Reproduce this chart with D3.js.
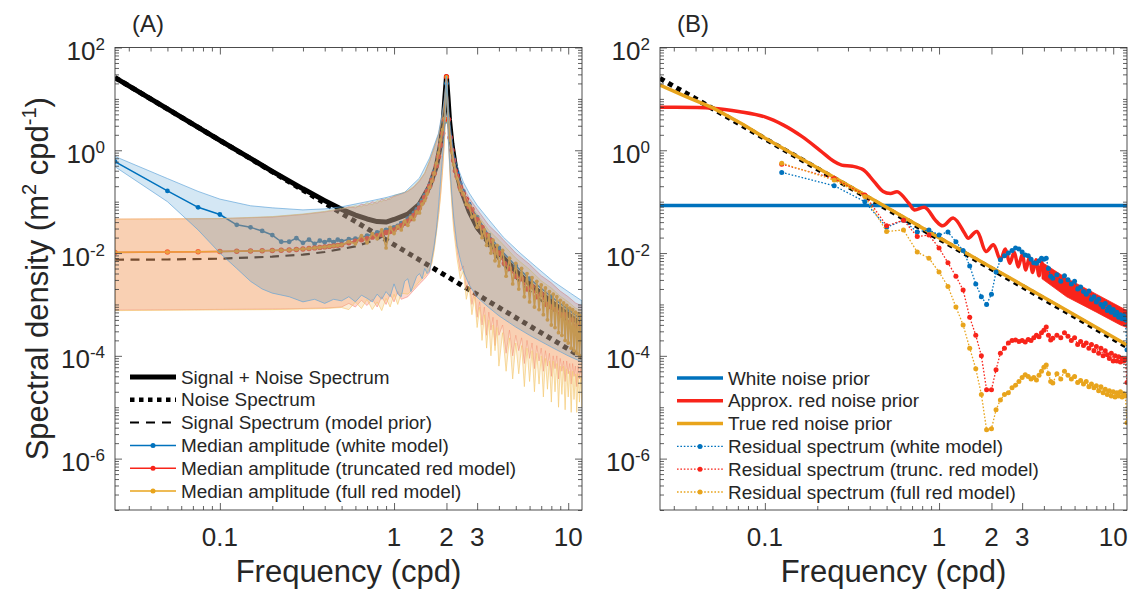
<!DOCTYPE html>
<html>
<head>
<meta charset="utf-8">
<script src="https://cdnjs.cloudflare.com/ajax/libs/d3/7.8.5/d3.min.js"></script>
<style>
  body { margin: 0; background: #fff; }
  svg text { font-family: "Liberation Sans", Arial, Helvetica, sans-serif; fill: #262626; }
</style>
</head>
<body>
<script>
/* ---------- data (values are log10 of spectral density, m^2 cpd^-1) ---------- */

var xTickVals = [0.1, 1, 2, 3, 10];
var xTickLabels = ['0.1', '1', '2', '3', '10'];
var yTickExp = [2, 0, -2, -4, -6];

// panel A : model spectra
var freqCurveA = [0.025, 0.05, 0.1, 0.2, 0.3, 0.4, 0.5, 0.6, 0.7, 0.8, 0.9, 1.0, 1.2, 1.4, 1.6, 1.75, 1.85, 1.92, 1.96, 2.0,
  2.04, 2.08, 2.15, 2.25, 2.4, 2.7, 3, 4, 5, 6, 8, 10, 12];
var sigNoiseLogA = [1.415, 0.806, 0.193, -0.409, -0.75, -0.979, -1.149, -1.26, -1.337, -1.387, -1.398, -1.347, -1.244, -1.046,
  -0.7, -0.31, 0.124, 0.6, 1.04, 1.43, 1.04, 0.6, 0.124, -0.32, -0.72, -1.19, -1.5, -2.0, -2.35, -2.6, -2.95, -3.2, -3.4];
var signalLogA = [-2.13, -2.125, -2.11, -2.07, -2.03, -1.98, -1.92, -1.87, -1.80, -1.73, -1.64, -1.54, -1.35, -1.08, -0.74,
  -0.35, 0.1, 0.59, 1.02, 1.415, 1.02, 0.59, 0.1, -0.35, -0.74, -1.22, -1.54, -2.13, -2.48, -2.74, -3.08, -3.33, -3.52];
var freqNoiseA = [0.025, 0.1, 1, 10, 12];
var noiseLogA = [1.415, 0.193, -1.837, -3.867, -4.03];

// panel A : confidence bands
var blueHiFreqA = [0.025, 0.05, 0.075, 0.1, 0.15, 0.2, 0.3, 0.4, 0.5, 0.7, 0.9, 1.15, 1.4, 1.6, 1.8, 1.9, 1.95, 2.0, 2.05, 2.1,
  2.2, 2.3, 2.5, 2.7, 3.0, 3.5, 4.24, 5.3, 6.6, 8.2, 10.3, 12];
var blueHiLogA = [-0.12, -0.55, -0.8, -0.95, -1.08, -1.12, -1.16, -1.14, -1.1, -1.0, -0.92, -0.82, -0.54, -0.15, 0.33, 0.78,
  1.05, 1.44, 0.9, 0.5, -0.05, -0.3, -0.62, -0.83, -1.07, -1.35, -1.69, -2.0, -2.28, -2.55, -2.78, -2.93];
var blueLoFreqA = [0.025, 0.05, 0.075, 0.1, 0.125, 0.15, 0.175, 0.2, 0.25, 0.3, 0.35, 0.4, 0.45, 0.5, 0.55, 0.6, 0.65, 0.7,
  0.75, 0.8, 0.85, 0.9, 0.95, 1.0, 1.05, 1.1, 1.15, 1.2, 1.25, 1.3, 1.35, 1.4, 1.45, 1.5, 1.55, 1.6, 1.65, 1.7, 1.75, 1.8,
  1.85, 1.9, 1.95, 2.0, 2.05, 2.1, 2.15, 2.2, 2.3, 2.4, 2.5, 2.7, 3.0, 3.5, 4.0, 5.0, 6.0, 8.0, 10.0, 12.0];
var blueLoLogA = [-0.32, -1.0, -1.55, -2.0, -2.3, -2.55, -2.7, -2.78, -2.85, -2.95, -2.9, -2.98, -2.9, -2.93, -2.85, -2.95,
  -2.82, -2.88, -2.95, -2.8, -2.9, -2.75, -2.85, -2.6, -2.8, -2.85, -2.55, -2.5, -2.75, -2.6, -2.45, -2.4, -2.5, -2.3, -2.4,
  -2.35, -2.1, -1.85, -1.55, -1.1, -0.6, -0.1, 0.4, 1.3, 0.2, -0.4, -0.9, -1.3, -1.85, -2.13, -2.35, -2.62, -2.86, -3.06,
  -3.22, -3.44, -3.6, -3.83, -4.0, -4.12];

var hiFreqA = [0.025, 0.1, 0.2, 0.3, 0.4, 0.5, 0.55, 0.6, 0.65, 0.7, 0.75, 0.8, 0.85, 0.9, 0.95, 1.0, 1.1, 1.2, 1.3, 1.4, 1.5,
  1.6, 1.7, 1.8, 1.9, 1.95, 2.0, 2.05, 2.1, 2.2, 2.3, 2.5, 2.7, 3.0, 3.5, 4.0, 5.0, 6.0, 7.0, 8.0, 9.0, 10.0, 11.0, 12.0];
var redHiLogA = [-1.34, -1.33, -1.3, -1.25, -1.2, -1.15, -1.1, -1.12, -1.05, -1.07, -1.0, -1.03, -0.95, -0.98, -0.92, -0.9,
  -0.85, -0.8, -0.72, -0.6, -0.45, -0.22, 0.05, 0.3, 0.72, 1.0, 1.45, 0.8, 0.4, -0.15, -0.42, -0.72, -0.93, -1.15, -1.46,
  -1.65, -2.0, -2.22, -2.44, -2.58, -2.74, -2.85, -2.97, -3.03];
var orangeHiLogA = [-1.34, -1.33, -1.29, -1.24, -1.19, -1.13, -1.12, -1.08, -1.1, -1.02, -1.06, -0.98, -1.0, -0.93, -0.96,
  -0.88, -0.84, -0.79, -0.7, -0.58, -0.44, -0.2, 0.05, 0.3, 0.7, 0.98, 1.44, 0.75, 0.35, -0.2, -0.5, -0.8, -1.02, -1.24,
  -1.56, -1.75, -2.1, -2.32, -2.54, -2.68, -2.84, -2.95, -3.07, -3.13];

var loFreqLeftA = [0.025, 0.2, 0.4, 0.5, 0.55, 0.6, 0.65, 0.7, 0.75, 0.8, 0.85, 0.9, 0.95, 1.0, 1.05, 1.1, 1.2, 1.3, 1.4, 1.5,
  1.6, 1.65, 1.7, 1.8, 1.85, 1.9, 1.95, 2.0];
var redLoLeftLogA = [-3.11, -3.09, -3.07, -3.05, -2.98, -3.05, -2.92, -3.02, -2.9, -3.05, -2.85, -3.0, -2.8, -2.95, -2.75,
  -2.9, -2.85, -2.72, -2.6, -2.5, -2.38, -2.15, -1.9, -1.25, -0.85, -0.35, 0.25, 1.3];
var orangeLoLeftLogA = [-3.12, -3.1, -3.08, -3.06, -3.1, -2.95, -3.08, -2.9, -3.1, -2.95, -3.12, -2.88, -3.05, -2.8, -3.0,
  -2.78, -2.8, -2.68, -2.55, -2.45, -2.3, -2.2, -1.95, -1.3, -0.9, -0.4, 0.2, 1.3];

// spiky high-frequency side of panel A
var freqSpikeA = [2.05, 2.1, 2.15, 2.2, 2.3, 2.4, 2.5, 2.6, 2.7, 2.8, 2.9, 3.0, 3.1, 3.2, 3.3, 3.4, 3.5, 3.6, 3.7, 3.8, 3.9, 4.0,
  4.2, 4.4, 4.6, 4.8, 5.0, 5.2, 5.4, 5.6, 5.8, 6.0, 6.2, 6.4, 6.6, 6.8, 7.0, 7.2, 7.4, 7.6, 7.8, 8.0,
  8.2, 8.4, 8.6, 8.8, 9.0, 9.2, 9.4, 9.6, 9.8, 10.0, 10.2, 10.4, 10.6, 10.8, 11.0, 11.2, 11.4, 11.6, 11.8, 12.0];
var redLoRightLogA = [0.25, -0.5, -1.0, -1.45, -1.95, -2.35, -2.25, -2.7, -2.55, -3.0, -2.75, -3.25, -2.95, -3.4, -3.05, -3.6,
  -3.15, -3.5, -3.25, -3.8, -3.3, -3.6, -3.4, -3.95, -3.5, -4.0, -3.6, -3.9, -3.65, -4.15, -3.7, -4.05, -3.75, -4.25, -3.8,
  -4.1, -3.85, -4.3, -3.9, -4.2, -3.95, -4.4, -4.0, -4.25, -4.0, -4.45, -4.05, -4.3, -4.1, -4.5, -4.1, -4.35, -4.15, -4.55,
  -4.15, -4.4, -4.2, -4.6, -4.2, -4.45, -4.25, -4.5];
var orangeLoRightLogA = [0.2, -0.55, -1.1, -1.55, -2.1, -2.5, -2.35, -2.9, -2.65, -3.2, -2.85, -3.45, -3.05, -3.7, -3.2, -3.85,
  -3.3, -4.0, -3.4, -3.9, -3.45, -4.2, -3.55, -4.3, -3.65, -4.45, -3.75, -4.35, -3.8, -4.6, -3.85, -4.5, -3.9, -4.7, -3.95,
  -4.55, -4.0, -4.8, -4.05, -4.65, -4.1, -4.9, -4.1, -4.7, -4.15, -5.0, -4.2, -4.75, -4.2, -5.05, -4.25, -4.8, -4.3, -5.1,
  -4.3, -4.85, -4.35, -5.1, -4.35, -4.9, -4.4, -5.0];

// panel A : median amplitudes
var medFreqLeftA = [0.025, 0.05, 0.075, 0.1, 0.125, 0.15, 0.175, 0.2, 0.225, 0.25, 0.275, 0.3, 0.325, 0.35, 0.375, 0.4,
  0.425, 0.45, 0.475, 0.5, 0.55, 0.6, 0.65, 0.7, 0.75, 0.8, 0.85, 0.9, 0.95, 1.0, 1.05, 1.1, 1.15, 1.2, 1.25, 1.3, 1.35,
  1.4, 1.45, 1.5, 1.55, 1.6, 1.65, 1.7, 1.75, 1.8, 1.85, 1.9, 1.95, 2.0];
var blueMedLeftLogA = [-0.22, -0.79, -1.11, -1.25, -1.45, -1.5, -1.57, -1.65, -1.78, -1.78, -1.71, -1.8, -1.74, -1.82, -1.76,
  -1.79, -1.75, -1.79, -1.74, -1.77, -1.73, -1.72, -1.7, -1.66, -1.64, -1.6, -1.58, -1.55, -1.52, -1.5, -1.47, -1.42, -1.4,
  -1.33, -1.28, -1.22, -1.15, -1.05, -0.98, -0.88, -0.78, -0.68, -0.55, -0.42, -0.28, -0.12, 0.08, 0.3, 0.55, 1.3];
var redMedLeftLogA = [-1.99, -1.98, -1.975, -1.97, -1.965, -1.96, -1.955, -1.95, -1.945, -1.94, -1.93, -1.92, -1.91, -1.9,
  -1.89, -1.88, -1.87, -1.86, -1.85, -1.84, -1.8, -1.77, -1.74, -1.72, -1.69, -1.66, -1.64, -1.6, -1.58, -1.55, -1.5, -1.47,
  -1.42, -1.38, -1.33, -1.27, -1.2, -1.12, -1.02, -0.92, -0.8, -0.7, -0.58, -0.45, -0.3, -0.12, 0.1, 0.33, 0.6, 1.43];
var orangeMedLeftLogA = [-1.985, -1.98, -1.975, -1.97, -1.965, -1.96, -1.955, -1.95, -1.945, -1.94, -1.93, -1.92, -1.91, -1.9,
  -1.89, -1.88, -1.87, -1.86, -1.85, -1.84, -1.78, -1.82, -1.66, -1.8, -1.62, -1.72, -1.55, -1.9, -1.5, -1.62, -1.48, -1.55,
  -1.38, -1.46, -1.3, -1.35, -1.2, -1.22, -1.05, -0.98, -0.85, -0.72, -0.6, -0.45, -0.25, -0.05, 0.2, 0.4, 0.62, 1.43];
var blueMedFreqRightA = [2.05, 2.1, 2.2, 2.3, 2.4, 2.5, 2.7, 3.0, 3.5, 4.0, 5.0, 6.0, 8.0, 10.0, 12.0];
var blueMedRightLogA = [0.6, 0.22, -0.18, -0.45, -0.65, -0.8, -1.05, -1.3, -1.65, -1.9, -2.25, -2.5, -2.85, -3.1, -3.3];
var redMedFreqRightA = [2.05, 2.1, 2.15, 2.2, 2.25, 2.3, 2.4, 2.5, 2.6, 2.7, 2.8, 3.0, 3.2, 3.4, 3.6, 3.8, 4.0, 4.3, 4.6, 5.0,
  5.4, 5.8, 6.2, 6.6, 7.0, 7.5, 8.0, 8.5, 9.0, 9.5, 10, 10.5, 11, 11.5, 12];
var redMedRightLogA = [0.6, 0.25, 0.0, -0.2, -0.4, -0.5, -0.72, -0.85, -0.95, -1.1, -1.15, -1.35, -1.5, -1.65, -1.75, -1.95,
  -2.0, -2.2, -2.3, -2.45, -2.5, -2.7, -2.65, -2.85, -2.8, -3.0, -3.05, -3.1, -3.2, -3.2, -3.35, -3.3, -3.45, -3.4, -3.55];
var orangeMedRightLogA = [0.55, 0.2, -0.05, -0.28, -0.55, -0.78, -0.85, -1.05, -1.08, -1.3, -1.27, -1.5, -1.4, -1.7, -1.55,
  -1.85, -1.65, -2.0, -1.75, -2.15, -1.85, -2.25, -1.95, -2.45, -2.1, -2.6, -2.2, -2.7, -2.3, -2.85, -2.4, -2.95, -2.48,
  -3.05, -2.55, -3.1, -2.62, -3.2, -2.68, -3.3, -2.75, -3.4, -2.8, -3.45, -2.85, -3.55, -2.92, -3.6, -2.97, -3.7, -3.02,
  -3.75, -3.07, -3.85, -3.1, -3.9, -3.15, -3.95, -3.18, -4.0, -3.22, -4.0];

// panel B : priors
var freqNoiseB = [0.025, 12];
var noiseLogB = [1.40, -3.82];
var freqWhiteB = [0.025, 12];
var whiteLogB = [-1.077, -1.077];
var freqTrueRedB = [0.025, 0.035, 0.05, 0.075, 0.1, 0.15, 0.2, 0.3, 0.5, 1, 2, 5, 12];
var trueRedLogB = [1.27, 1.05, 0.83, 0.5, 0.24, -0.1, -0.34, -0.68, -1.11, -1.7, -2.28, -3.05, -3.79];
var freqApproxRedB = [0.025, 0.05, 0.072, 0.1, 0.128, 0.163, 0.207, 0.25, 0.276, 0.318, 0.367, 0.424, 0.478, 0.526, 0.58,
  0.67, 0.72, 0.83, 0.953, 1.05, 1.21, 1.4, 1.47, 1.65, 1.86, 2.05, 2.25, 2.4, 2.55, 2.7, 2.85, 3.0, 3.15, 3.3, 3.45, 3.6,
  3.75, 3.9, 4.05];
var approxRedLogB = [0.835, 0.82, 0.75, 0.65, 0.49, 0.27, 0.0, -0.22, -0.29, -0.31, -0.38, -0.61, -0.8, -0.84, -0.81, -1.03,
  -1.16, -1.11, -1.36, -1.47, -1.32, -1.61, -1.71, -1.58, -1.97, -1.84, -2.13, -1.92, -2.2, -1.98, -2.27, -2.03, -2.33,
  -2.08, -2.38, -2.13, -2.44, -2.18, -2.5];
// dense ripple of the approx. prior above 4 cpd, as its envelope
var freqApproxBandB = [3.9, 5.4, 8, 11, 12];
var approxBandHiLogB = [-2.18, -2.49, -2.8, -3.05, -3.12];
var approxBandLoLogB = [-2.5, -2.85, -3.15, -3.4, -3.45];

// panel B : residual spectra
var freqResB = [0.125, 0.25, 0.375, 0.5, 0.625, 0.75, 0.875, 1.0, 1.125, 1.25, 1.375, 1.5, 1.625, 1.75, 1.875, 2.0, 2.125,
  2.25, 2.375, 2.5, 2.625, 2.75, 2.875, 3.0, 3.125, 3.25, 3.375, 3.5, 3.625, 3.75, 3.875, 4.0, 4.125, 4.25, 4.375, 4.5,
  4.75, 5.0, 5.25, 5.5, 5.75, 6.0, 6.25, 6.5, 6.75, 7.0, 7.25, 7.5, 7.75, 8.0, 8.25, 8.5, 8.75, 9.0, 9.25, 9.5, 9.75, 10.0,
  10.25, 10.5, 10.75, 11.0, 11.25, 11.5, 11.75, 12.0];
var resWhiteLogB = [-0.43, -0.69, -1.0, -1.5, -1.36, -1.59, -1.55, -1.65, -1.59, -1.78, -1.95, -2.25, -2.6, -2.85, -3.0, -2.8,
  -2.37, -2.13, -2.05, -2.0, -1.95, -1.9, -1.92, -1.98, -2.04, -2.05, -2.12, -2.19, -2.2, -2.15, -2.1, -2.12, -2.1, -2.3,
  -2.45, -2.49, -2.42, -2.55, -2.44, -2.52, -2.6, -2.55, -2.7, -2.66, -2.75, -2.8, -2.74, -2.9, -2.85, -2.95, -2.9, -3.0,
  -3.05, -2.98, -3.12, -3.05, -3.15, -3.1, -3.2, -3.15, -3.25, -3.2, -3.28, -3.22, -3.3, -3.88];
var resTruncLogB = [-0.27, -0.55, -0.87, -1.47, -1.36, -1.68, -1.65, -1.9, -2.19, -2.45, -2.72, -3.25, -3.6, -4.0, -4.66,
  -4.66, -4.27, -3.95, -3.85, -3.75, -3.7, -3.69, -3.72, -3.7, -3.73, -3.68, -3.7, -3.65, -3.6, -3.63, -3.55, -3.5, -3.44,
  -3.6, -3.69, -3.66, -3.6, -3.65, -3.55, -3.62, -3.7, -3.65, -3.78, -3.72, -3.8, -3.75, -3.85, -3.78, -3.9, -3.82, -3.95,
  -3.85, -4.0, -3.9, -3.98, -4.05, -3.95, -4.1, -4.0, -4.1, -4.02, -4.12, -4.05, -4.1, -4.06, -4.52];
var resFullLogB = [-0.25, -0.58, -0.9, -1.58, -1.55, -1.98, -2.1, -2.37, -2.65, -3.05, -3.4, -3.85, -4.25, -4.75, -5.44,
  -5.42, -5.05, -4.86, -4.75, -4.72, -4.62, -4.57, -4.5, -4.42, -4.37, -4.4, -4.45, -4.42, -4.47, -4.38, -4.3, -4.22, -4.18,
  -4.35, -4.5, -4.53, -4.35, -4.45, -4.3, -4.38, -4.45, -4.4, -4.52, -4.48, -4.55, -4.5, -4.6, -4.55, -4.62, -4.58, -4.68,
  -4.6, -4.72, -4.65, -4.75, -4.68, -4.78, -4.7, -4.8, -4.72, -4.78, -4.7, -4.8, -4.74, -4.78, -5.3];


/* ---------- layout ---------- */

var width = 1134;
var height = 593;
var plotTop = 47.5;
var plotW = 467;
var plotH = 462.5;
var leftA = 115;
var leftB = 660;

var cBlue = '#0072bd';
var cRed = '#f8241a';
var cOrange = '#e8a41c';

var svg = d3.select('body').append('svg')
  .attr('width', width)
  .attr('height', height);

function pts(freqs, logs) {
  return freqs.map(function (f, i) { return { f: f, v: Math.pow(10, logs[i]) }; });
}


/* ---------- panel skeleton ---------- */

function makePanel(left, id) {
  var g = svg.append('g').attr('transform', 'translate(' + left + ',' + plotTop + ')');
  var x = d3.scaleLog().domain([0.025, 12]).range([0, plotW]);
  var y = d3.scaleLog().domain([1e-7, 1e2]).range([plotH, 0]);

  svg.append('clipPath').attr('id', 'clip' + id)
    .append('rect').attr('width', plotW).attr('height', plotH);

  var plot = g.append('g').attr('clip-path', 'url(#clip' + id + ')');
  var line = d3.line().x(function (d) { return x(d.f); }).y(function (d) { return y(d.v); });
  return { g: g, plot: plot, x: x, y: y, line: line };
}

function drawAxes(p) {
  var xMinor = [];
  for (var e = -2; e <= 1; e++) {
    for (var k = 1; k <= 9; k++) {
      var v = k * Math.pow(10, e);
      if (v >= 0.025 && v <= 12 && xTickVals.indexOf(v) < 0) xMinor.push(v);
    }
  }
  var yMajor = yTickExp.map(function (e) { return Math.pow(10, e); });
  var yMinor = [];
  for (var e2 = -7; e2 <= 1; e2++) {
    for (var k2 = 1; k2 <= 9; k2++) {
      if (k2 === 1 && yTickExp.indexOf(e2) >= 0) continue;
      yMinor.push(k2 * Math.pow(10, e2));
    }
  }

  var axes = [
    [d3.axisBottom(p.x).tickValues(xTickVals).tickSize(-7), 'translate(0,' + plotH + ')'],
    [d3.axisBottom(p.x).tickValues(xMinor).tickSize(-4), 'translate(0,' + plotH + ')'],
    [d3.axisTop(p.x).tickValues(xTickVals).tickSize(-7), null],
    [d3.axisTop(p.x).tickValues(xMinor).tickSize(-4), null],
    [d3.axisLeft(p.y).tickValues(yMajor).tickSize(-7), null],
    [d3.axisLeft(p.y).tickValues(yMinor).tickSize(-4), null],
    [d3.axisRight(p.y).tickValues(yMajor).tickSize(-7), 'translate(' + plotW + ',0)'],
    [d3.axisRight(p.y).tickValues(yMinor).tickSize(-4), 'translate(' + plotW + ',0)']
  ];
  axes.forEach(function (a) {
    var ag = p.g.append('g').attr('color', '#3a3a3a').call(a[0].tickFormat(''));
    if (a[1]) ag.attr('transform', a[1]);
    ag.select('.domain').remove();
    ag.selectAll('line').attr('stroke-width', 0.8);
  });

  p.g.append('rect')
    .attr('width', plotW).attr('height', plotH)
    .attr('fill', 'none').attr('stroke', '#3a3a3a').attr('stroke-width', 0.9);

  // x tick labels
  p.g.selectAll('.xlab').data(xTickVals).enter().append('text')
    .attr('x', function (d) { return p.x(d); })
    .attr('y', plotH + 36)
    .attr('text-anchor', 'middle')
    .style('font-size', '26px')
    .text(function (d, i) { return xTickLabels[i]; });

  // y tick labels 10^n
  yTickExp.forEach(function (e) {
    var t = p.g.append('text')
      .attr('x', -10)
      .attr('y', p.y(Math.pow(10, e)) + 12.5)
      .attr('text-anchor', 'end')
      .style('font-size', '26px');
    t.append('tspan').text('10');
    t.append('tspan').attr('dy', -10).style('font-size', '17px').text(e);
  });

  p.g.append('text')
    .attr('x', plotW / 2)
    .attr('y', plotH + 72)
    .attr('text-anchor', 'middle')
    .style('font-size', '31px')
    .text('Frequency (cpd)');
}

function drawLine(p, data, color, w, dash) {
  p.plot.append('path')
    .datum(data)
    .attr('d', p.line)
    .attr('fill', 'none')
    .attr('stroke', color)
    .attr('stroke-width', w)
    .attr('stroke-dasharray', dash || null)
    .attr('stroke-linejoin', 'round');
}

function drawMarkers(p, data, color, r) {
  p.plot.append('g').selectAll('circle').data(data).enter().append('circle')
    .attr('cx', function (d) { return p.x(d.f); })
    .attr('cy', function (d) { return p.y(d.v); })
    .attr('r', r)
    .attr('fill', color);
}

function drawBand(p, hi, lo, fill, edge) {
  var ring = hi.concat(lo.slice().reverse());
  p.plot.append('path')
    .attr('d', p.line(ring) + 'Z')
    .attr('fill', fill)
    .attr('stroke', edge)
    .attr('stroke-width', 0.8)
    .attr('stroke-linejoin', 'round');
}

function drawLegend(x0, y0, items) {
  var lg = svg.append('g');
  items.forEach(function (it, i) {
    var yy = y0 + i * 22.8;
    lg.append('line')
      .attr('x1', x0).attr('x2', x0 + 46)
      .attr('y1', yy).attr('y2', yy)
      .attr('stroke', it.color)
      .attr('stroke-width', it.w)
      .attr('stroke-dasharray', it.dash || null);
    if (it.marker) {
      lg.append('circle').attr('cx', x0 + 23).attr('cy', yy).attr('r', 2.5).attr('fill', it.color);
    }
    lg.append('text')
      .attr('x', x0 + 51)
      .attr('y', yy)
      .attr('dy', '0.35em')
      .style('font-size', '18.9px')
      .text(it.label);
  });
}


/* ---------- panel A ---------- */

var pA = makePanel(leftA, 'A');

drawLine(pA, pts(freqCurveA, sigNoiseLogA), '#000', 5);
drawLine(pA, pts(freqNoiseA, noiseLogA), '#000', 5, '5,4.5');
drawLine(pA, pts(freqCurveA, signalLogA), '#000', 2.2, '9,6.5');

var blueMedA = pts(medFreqLeftA.concat(blueMedFreqRightA), blueMedLeftLogA.concat(blueMedRightLogA));
var redMedA = pts(medFreqLeftA.concat(redMedFreqRightA), redMedLeftLogA.concat(redMedRightLogA));
var orangeMedA = pts(medFreqLeftA.concat(freqSpikeA), orangeMedLeftLogA.concat(orangeMedRightLogA));
drawLine(pA, blueMedA, cBlue, 1.5);
drawMarkers(pA, blueMedA, cBlue, 2.4);
drawLine(pA, redMedA, cRed, 1.5);
drawMarkers(pA, redMedA, cRed, 2.7);
drawLine(pA, orangeMedA, cOrange, 1.6);
drawMarkers(pA, orangeMedA, cOrange, 1.9);

drawBand(pA,
  pts(hiFreqA, redHiLogA),
  pts(loFreqLeftA.concat(freqSpikeA), redLoLeftLogA.concat(redLoRightLogA)),
  'rgba(246,110,80,0.28)', 'rgba(246,130,120,0.7)');
drawBand(pA,
  pts(hiFreqA, orangeHiLogA),
  pts(loFreqLeftA.concat(freqSpikeA), orangeLoLeftLogA.concat(orangeLoRightLogA)),
  'rgba(240,190,110,0.28)', 'rgba(244,200,110,0.8)');
drawBand(pA,
  pts(blueHiFreqA, blueHiLogA),
  pts(blueLoFreqA, blueLoLogA),
  'rgba(0,114,189,0.17)', 'rgba(90,160,215,0.8)');

drawAxes(pA);

pA.g.append('text')
  .attr('x', 17).attr('y', -16)
  .style('font-size', '24px')
  .text('(A)');

var yLab = svg.append('text')
  .attr('transform', 'translate(48,' + (plotTop + plotH / 2) + ') rotate(-90)')
  .attr('text-anchor', 'middle')
  .style('font-size', '31px');
yLab.append('tspan').text('Spectral density (m');
yLab.append('tspan').attr('dy', -12).style('font-size', '20px').text('2');
yLab.append('tspan').attr('dy', 12).text(' cpd');
yLab.append('tspan').attr('dy', -12).style('font-size', '20px').text('-1');
yLab.append('tspan').attr('dy', 12).text(')');

drawLegend(130, 377, [
  { label: 'Signal + Noise Spectrum', color: '#000', w: 5 },
  { label: 'Noise Spectrum', color: '#000', w: 4.5, dash: '4.5,4.5' },
  { label: 'Signal Spectrum (model prior)', color: '#000', w: 2, dash: '9,7' },
  { label: 'Median amplitude (white model)', color: cBlue, w: 1.5, marker: true },
  { label: 'Median amplitude (truncated red model)', color: cRed, w: 1.5, marker: true },
  { label: 'Median amplitude (full red model)', color: cOrange, w: 1.5, marker: true }
]);


/* ---------- panel B ---------- */

var pB = makePanel(leftB, 'B');

drawLine(pB, pts(freqNoiseB, noiseLogB), '#000', 5, '5,4.5');
drawLine(pB, pts(freqWhiteB, whiteLogB), cBlue, 3.5);

pB.plot.append('path')
  .datum(pts(freqApproxRedB, approxRedLogB))
  .attr('d', pB.line.curve(d3.curveCatmullRom))
  .attr('fill', 'none')
  .attr('stroke', cRed)
  .attr('stroke-width', 3.5);
pB.line.curve(d3.curveLinear);
drawBand(pB, pts(freqApproxBandB, approxBandHiLogB), pts(freqApproxBandB, approxBandLoLogB), cRed, cRed);

drawLine(pB, pts(freqTrueRedB, trueRedLogB), cOrange, 3.5);

var resSeries = [[resWhiteLogB, cBlue], [resTruncLogB, cRed], [resFullLogB, cOrange]];
resSeries.forEach(function (s) {
  var d = pts(freqResB, s[0]);
  drawLine(pB, d, s[1], 1.3, '1.6,1.8');
  drawMarkers(pB, d, s[1], 2.5);
});

drawAxes(pB);

pB.g.append('text')
  .attr('x', 17).attr('y', -16)
  .style('font-size', '24px')
  .text('(B)');

drawLegend(677, 378, [
  { label: 'White noise prior', color: cBlue, w: 3.5 },
  { label: 'Approx. red noise prior', color: cRed, w: 3.5 },
  { label: 'True red noise prior', color: cOrange, w: 3.5 },
  { label: 'Residual spectrum (white model)', color: cBlue, w: 1.3, dash: '1.6,1.8', marker: true },
  { label: 'Residual spectrum (trunc. red model)', color: cRed, w: 1.3, dash: '1.6,1.8', marker: true },
  { label: 'Residual spectrum (full red model)', color: cOrange, w: 1.3, dash: '1.6,1.8', marker: true }
]);
</script>
</body>
</html>
